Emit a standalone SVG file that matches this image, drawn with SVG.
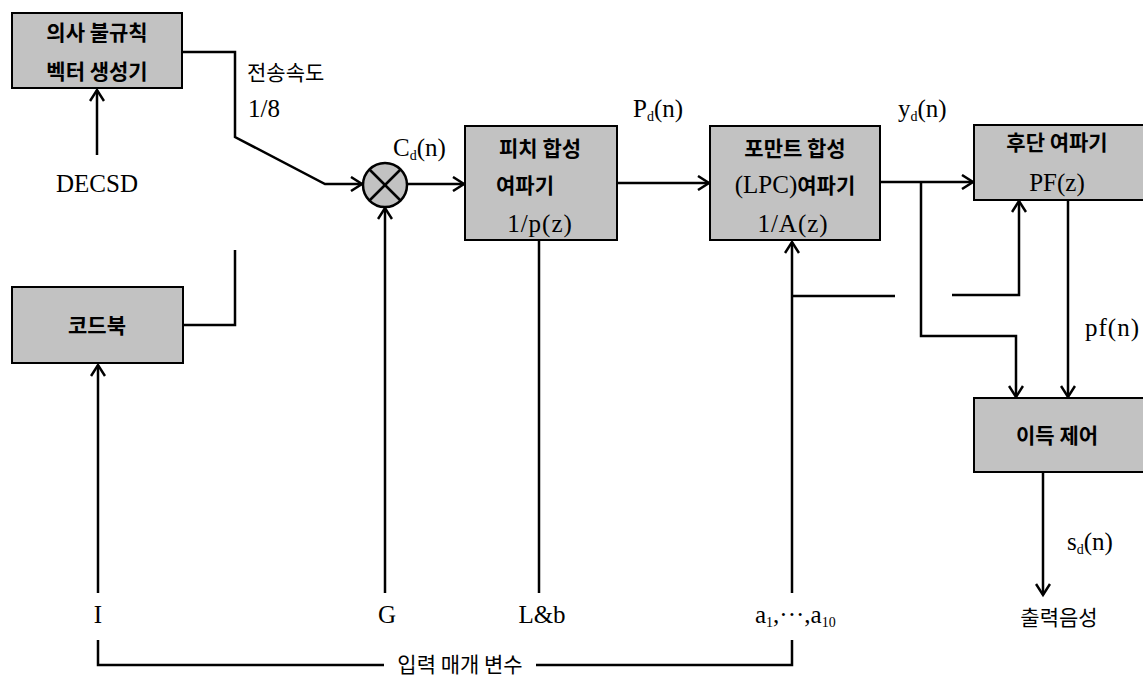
<svg xmlns="http://www.w3.org/2000/svg" width="1143" height="687" viewBox="0 0 1143 687">
<defs>
<marker id="arr" markerUnits="userSpaceOnUse" markerWidth="16" markerHeight="16" viewBox="-12 -8 14 16" refX="0" refY="0" orient="auto">
<path d="M-11,-7 L0,0 L-11,7" fill="none" stroke="#000" stroke-width="2.5"/>
</marker>
</defs>
<style>
.box{fill:#c2c2c2;stroke:#000;stroke-width:2}
.ln{fill:none;stroke:#000;stroke-width:2.5}
.ar{marker-end:url(#arr)}
.kb{font-family:"Noto Sans CJK KR",sans-serif;font-size:21px;font-weight:700;fill:#000;text-anchor:middle}
.kr{font-family:"Noto Sans CJK KR",sans-serif;font-size:21px;font-weight:400;fill:#000}
.lt{font-family:"Liberation Serif",serif;font-size:25px;fill:#000}
.sub{font-size:14px}
</style>
<rect width="1143" height="687" fill="#fff"/>

<g id="connectors">
<polyline class="ln ar" points="182,52 235,52 235,137 325,184 362,184"/>
<polyline class="ln" points="183,325 235,325 235,250"/>
<line class="ln ar" x1="97" y1="155" x2="97" y2="90"/>
<line class="ln ar" x1="98" y1="593" x2="98" y2="365"/>
<line class="ln ar" x1="385" y1="593" x2="385" y2="208"/>
<line class="ln ar" x1="407" y1="184" x2="464" y2="184"/>
<line class="ln ar" x1="617" y1="183" x2="709" y2="183"/>
<line class="ln" x1="539" y1="240" x2="539" y2="593"/>
<line class="ln ar" x1="792" y1="593" x2="792" y2="242"/>
<line class="ln" x1="792" y1="296" x2="895" y2="296"/>
<line class="ln ar" x1="880" y1="182" x2="973" y2="182"/>
<polyline class="ln ar" points="921,182 921,336 1016,336 1016,397"/>
<polyline class="ln ar" points="952,295 1019,295 1019,201"/>
<line class="ln ar" x1="1068" y1="200" x2="1068" y2="397"/>
<line class="ln ar" x1="1043" y1="472" x2="1043" y2="595"/>
<polyline class="ln" points="98,640 98,665 384,665"/>
<polyline class="ln" points="536,665 792,665 792,640"/>
</g>

<g id="pn-generator">
<rect class="box" x="12" y="13" width="170" height="75"/>
<text class="kb" x="97" y="40">의사 불규칙</text>
<text class="kb" x="97" y="79">벡터 생성기</text>
</g>

<g id="codebook">
<rect class="box" x="12" y="287" width="171" height="76"/>
<text class="kb" x="97" y="333">코드북</text>
</g>

<g id="multiplier">
<circle cx="385" cy="185" r="22" fill="#c2c2c2" stroke="#000" stroke-width="2.5"/>
<line class="ln" x1="369.5" y1="169.5" x2="400.5" y2="200.5"/>
<line class="ln" x1="400.5" y1="169.5" x2="369.5" y2="200.5"/>
</g>

<g id="pitch-filter">
<rect class="box" x="465" y="126" width="152" height="114"/>
<text class="kb" x="540" y="156">피치 합성</text>
<text class="kb" x="525" y="193">여파기</text>
<text class="lt" x="540" y="232" text-anchor="middle" letter-spacing="1">1/p(z)</text>
</g>

<g id="formant-filter">
<rect class="box" x="710" y="126" width="170" height="114"/>
<text class="kb" x="795" y="156">포만트 합성</text>
<text class="kb" x="795" y="193"><tspan font-family="Liberation Serif" font-weight="400" font-size="25">(LPC)</tspan>여파기</text>
<text class="lt" x="793" y="232" text-anchor="middle" letter-spacing="1">1/A(z)</text>
</g>

<g id="post-filter">
<rect class="box" x="974" y="125" width="180" height="75"/>
<text class="kb" x="1057" y="150">후단 여파기</text>
<text class="lt" x="1057" y="191" text-anchor="middle">PF(z)</text>
</g>

<g id="gain-control">
<rect class="box" x="974" y="398" width="180" height="74"/>
<text class="kb" x="1057" y="443">이득 제어</text>
</g>

<g id="labels">
<text class="kr" x="247" y="80">전송속도</text>
<text class="lt" x="248" y="117">1/8</text>
<text class="lt" x="97" y="192" text-anchor="middle">DECSD</text>
<text class="lt" x="393" y="156">C<tspan class="sub" dy="4">d</tspan><tspan dy="-4">(n)</tspan></text>
<text class="lt" x="633" y="117">P<tspan class="sub" dy="4">d</tspan><tspan dy="-4">(n)</tspan></text>
<text class="lt" x="898" y="117">y<tspan class="sub" dy="4">d</tspan><tspan dy="-4">(n)</tspan></text>
<text class="lt" x="1085" y="336" letter-spacing="1">pf(n)</text>
<text class="lt" x="1067" y="550">s<tspan class="sub" dy="4">d</tspan><tspan dy="-4">(n)</tspan></text>
<text class="kr" x="1059" y="625" text-anchor="middle">출력음성</text>
<text class="lt" x="98" y="623" text-anchor="middle">I</text>
<text class="lt" x="387" y="623" text-anchor="middle">G</text>
<text class="lt" x="542" y="623" text-anchor="middle">L&amp;b</text>
<text class="lt" x="755" y="623">a<tspan class="sub" dy="4">1</tspan><tspan dy="-4">,···,a</tspan><tspan class="sub" dy="4">10</tspan></text>
<text class="kr" x="460" y="672" text-anchor="middle">입력 매개 변수</text>
</g>
</svg>
